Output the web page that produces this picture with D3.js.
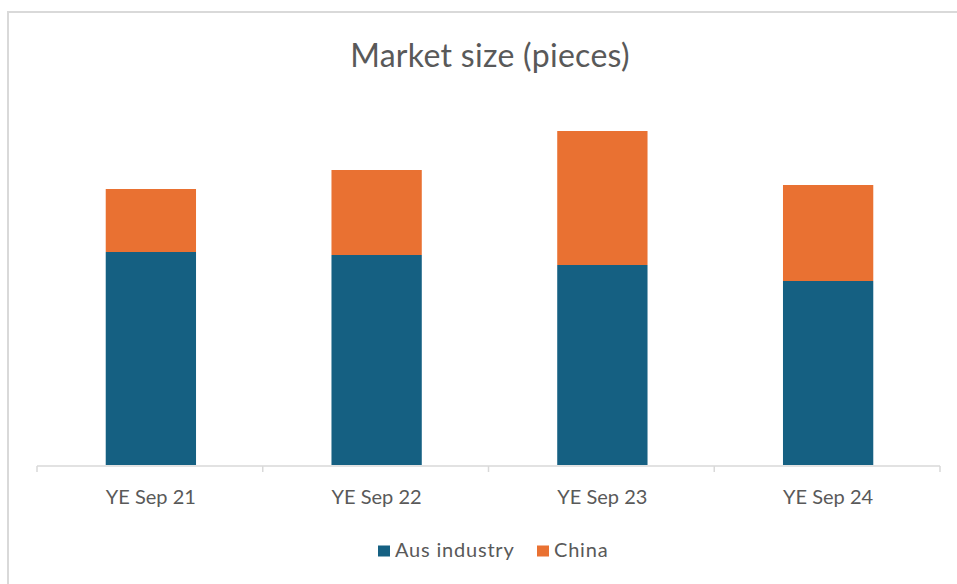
<!DOCTYPE html>
<html>
<head>
<meta charset="utf-8">
<script src="https://cdn.jsdelivr.net/npm/d3@7"></script>
<style>
  body { margin: 0; background: #fff; }
  svg { display: block; font-family: Lato, "Open Sans", sans-serif; }
</style>
</head>
<body>
<div id="chart"></div>
<script>
// データ (no value axis in the picture, so these are relative units)
const categories = ['YE Sep 21', 'YE Sep 22', 'YE Sep 23', 'YE Sep 24'];
const ausIndustry = [213, 210, 200, 184];
const china = [63, 85, 134, 96];
const seriesNames = ['Aus industry', 'China'];
const colors = ['#156082', '#E97132'];

// svg領域設定
const svgWidth = 957;
const svgHeight = 584;
const svg = d3.select('#chart')
  .append('svg')
  .attr('width', svgWidth)
  .attr('height', svgHeight);

// chart border
svg.append('rect')
  .attr('x', 8).attr('y', 12)
  .attr('width', svgWidth + 10).attr('height', svgHeight + 10)
  .attr('fill', '#fff')
  .attr('stroke', '#d9d9d9')
  .attr('stroke-width', 2);

// title
svg.append('text')
  .attr('x', 490).attr('y', 67)
  .attr('text-anchor', 'middle')
  .attr('fill', '#595959')
  .style('font-size', '32px')
  .style('letter-spacing', '0.3px')
  .text('Market size (pieces)');

// グラフ領域設定
const margin = { top: 90, left: 37, right: 17, bottom: 119 };
const plotBottom = svgHeight - margin.bottom;

const rows = categories.map((c, i) => ({ cat: c, 'Aus industry': ausIndustry[i], China: china[i] }));
const stacked = d3.stack().keys(seriesNames)(rows);

const x = d3.scaleBand()
  .domain(categories)
  .range([margin.left, svgWidth - margin.right])
  .paddingInner(0.6)
  .paddingOuter(0.3);

const y = d3.scaleLinear()
  .domain([0, 350])
  .range([plotBottom, plotBottom - 350]);

const graph = svg.append('g').attr('transform', 'translate(1,0)');

graph.selectAll('g.series')
  .data(stacked)
  .join('g')
  .attr('class', 'series')
  .attr('fill', (d, i) => colors[i])
  .selectAll('rect')
  .data(d => d)
  .join('rect')
  .attr('x', d => x(d.data.cat))
  .attr('y', d => y(d[1]))
  .attr('width', x.bandwidth())
  .attr('height', d => y(d[0]) - y(d[1]));

// category axis
const step = (svgWidth - margin.right - margin.left) / categories.length;
const axis = svg.append('g').attr('transform', `translate(0,${plotBottom + 1})`);
axis.append('line')
  .attr('x1', margin.left).attr('x2', svgWidth - margin.right)
  .attr('stroke', '#d9d9d9').attr('stroke-width', 1.5);
axis.selectAll('line.tick')
  .data(d3.range(categories.length + 1))
  .join('line')
  .attr('class', 'tick')
  .attr('x1', i => margin.left + i * step)
  .attr('x2', i => margin.left + i * step)
  .attr('y1', 0).attr('y2', 6)
  .attr('stroke', '#d9d9d9').attr('stroke-width', 1.5);
axis.selectAll('text')
  .data(categories)
  .join('text')
  .attr('x', d => x(d) + x.bandwidth() / 2 + 1)
  .attr('y', 38)
  .attr('text-anchor', 'middle')
  .attr('fill', '#595959')
  .style('font-size', '20px')
  .text(d => d);

// legend
const legend = svg.append('g').attr('transform', 'translate(0,551)');
const legendX = [378, 537];
seriesNames.forEach((s, i) => {
  legend.append('rect')
    .attr('x', legendX[i]).attr('y', -5.5)
    .attr('width', 12).attr('height', 11)
    .attr('fill', colors[i]);
  legend.append('text')
    .attr('x', legendX[i] + 17).attr('y', 6)
    .attr('fill', '#595959')
    .style('font-size', '20px')
    .style('letter-spacing', '0.8px')
    .text(s);
});
</script>
</body>
</html>
